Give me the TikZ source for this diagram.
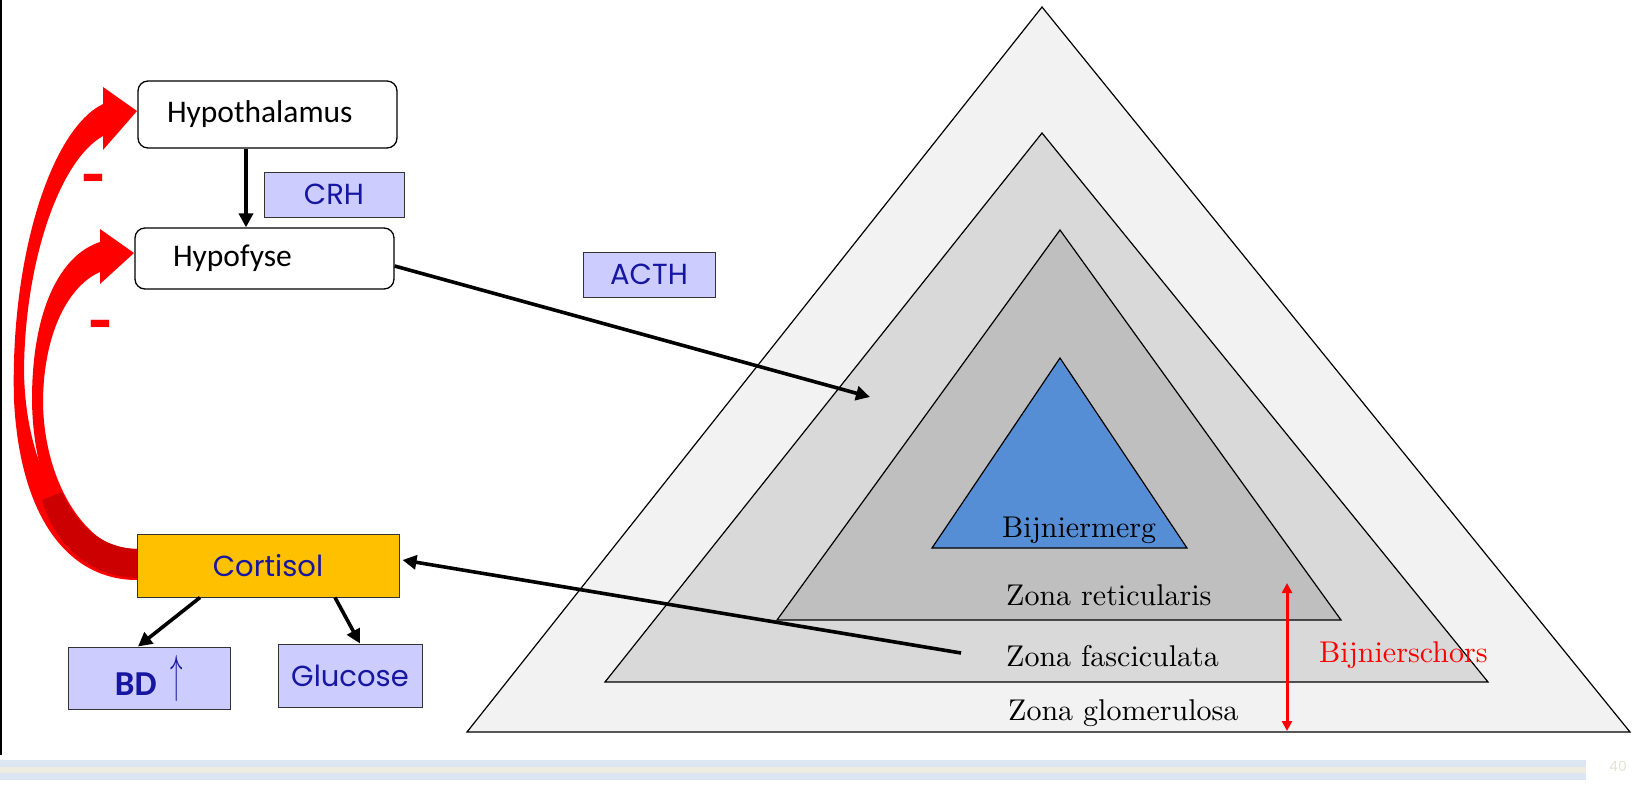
\documentclass[tikz,border=0pt]{standalone}
\usepackage{fontspec}
\newfontfamily\calibri{Carlito}
\newfontfamily\gothic{Poppins}
\newfontfamily\bookserif{lmroman10-regular}[Extension=.otf]
\usetikzlibrary{arrows.meta}

\definecolor{zoneA}{HTML}{F2F2F2}
\definecolor{zoneB}{HTML}{D9D9D9}
\definecolor{zoneC}{HTML}{BFBFBF}
\definecolor{medulla}{HTML}{558ED5}
\definecolor{lilac}{HTML}{CCCCFF}
\definecolor{amber}{HTML}{FFC000}
\definecolor{navy}{RGB}{22,22,160}
\definecolor{fbred}{HTML}{FF0000}
\definecolor{fbdark}{HTML}{CC0000}
\definecolor{stripblue}{HTML}{DCE6F2}
\definecolor{stripbeige}{HTML}{EEECE1}
\definecolor{pagegrey}{RGB}{228,226,214}

\tikzset{
  organ/.style={draw=black, line width=1.3pt, rounded corners=10pt, fill=white,
    align=left, font=\calibri\fontsize{31.5}{36}\selectfont, inner ysep=0pt},
  hormone/.style={draw=black!80, line width=1pt, fill=lilac, inner sep=0pt,
    text=navy, font=\gothic\fontsize{29}{34}\selectfont},
  zonetext/.style={anchor=base west, inner sep=0pt, font=\bookserif\fontsize{30}{36}\selectfont},
  flow/.style={line width=3.6pt, -{Triangle[length=14pt,width=14pt]}},
  cortexspan/.style={draw=fbred, line width=3pt,
    {Triangle[length=10pt,width=10pt]}-{Triangle[length=10pt,width=10pt]}},
  minus/.style={text=fbred, inner sep=0pt, font=\calibri\bfseries\fontsize{52}{52}\selectfont}
}

\begin{document}
\begin{tikzpicture}[x=1pt,y=-1pt]
\useasboundingbox (0,0) rectangle (1647,792);

% left edge of the slide frame
\draw[line width=1.5pt] (0.75,0) -- (0.75,755);

% footer band and slide number
\fill[stripblue] (0,760) rectangle (1586,767);
\fill[stripbeige] (0,767) rectangle (1586,773);
\fill[stripblue] (0,773) rectangle (1586,780);
\node[text=pagegrey, font=\gothic\fontsize{14}{14}\selectfont] (pagenr) at (1618,766) {40};

% adrenal gland: nested zones
\filldraw[fill=zoneA, draw=black, line width=1.2pt, line join=miter]
  (1042,7) -- (1630,732) -- (467,732) -- cycle;
\filldraw[fill=zoneB, draw=black, line width=1.2pt]
  (1042,133) -- (1488,682) -- (605,682) -- cycle;
\filldraw[fill=zoneC, draw=black, line width=1.2pt]
  (1060,230) -- (1341,620) -- (777,620) -- cycle;
\filldraw[fill=medulla, draw=black, line width=1.2pt]
  (1060,358) -- (1187,548) -- (932,548) -- cycle;

\node[zonetext] (merg) at (1002,537) {Bijniermerg};
\node[zonetext] (reti) at (1006,605) {Zona reticularis};
\node[zonetext] (fasc) at (1006,666) {Zona fasciculata};
\node[zonetext] (glom) at (1008,720) {Zona glomerulosa};
\node[zonetext, text=fbred] (schors) at (1319,662) {Bijnierschors};

\coordinate (cortextop) at (1287,583);
\coordinate (cortexbot) at (1287,731);
\draw[cortexspan] (cortextop) -- (cortexbot);

% negative feedback from cortisol
\fill[fbred]
  (137,580) .. controls (70,580) and (20,520) .. (14,400)
  .. controls (10,260) and (50,130) .. (103,104)
  -- (103,87) -- (137,111) -- (103,150) -- (103,136)
  .. controls (60,160) and (25,260) .. (24,370)
  .. controls (25,470) and (70,548) .. (137,549) -- cycle;
\fill[fbred]
  (137,575) .. controls (80,575) and (33,500) .. (32,400)
  .. controls (32,310) and (60,255) .. (100,242)
  -- (100,229) -- (134,253) -- (100,284) -- (100,272)
  .. controls (70,285) and (44,330) .. (43,400)
  .. controls (43,480) and (85,550) .. (137,552) -- cycle;
\fill[fbdark]
  (137,578) .. controls (92,577) and (56,548) .. (42,500)
  -- (62,492) .. controls (78,528) and (104,548) .. (137,549) -- cycle;

\node[minus] (minus1) at (93,188) {\scalebox{1}[1.6]{–}};
\node[minus] (minus2) at (100,334) {\scalebox{1}[1.6]{–}};

% hormone axis
\node[organ, text width=201pt, inner xsep=29pt, minimum height=67pt] (hyp) at (267.5,114.5) {Hypothalamus};
\node[organ, text width=183pt, inner xsep=38pt, minimum height=61pt] (hypo) at (264.5,258.5) {Hypofyse};
\node[hormone, minimum width=140pt, minimum height=45pt] (crh) at (334,194.5) {CRH};
\node[hormone, minimum width=132pt, minimum height=45pt] (acth) at (649,274.5) {ACTH};
\node[hormone, fill=amber, minimum width=262pt, minimum height=63pt] (cort) at (268,565.5) {Cortisol};
\node[hormone, minimum width=162pt, minimum height=62pt,
  font=\calibri\fontsize{35}{40}\selectfont] (bd) at (149,678)
  {\textbf{BD}\hspace{14pt}\raisebox{4pt}{\scalebox{1}[2.1]{$\uparrow$}}};
\node[hormone, minimum width=144pt, minimum height=63pt] (gluc) at (350,675.5) {Glucose};

\coordinate (acthtarget) at (870,397);
\coordinate (fascsource) at (961,653);

\draw[flow] ([xshift=-21.5pt]hyp.south) -- ([xshift=-18.5pt]hypo.north);
\draw[flow] ([yshift=-7.5pt]hypo.east) -- (acthtarget);
\draw[flow] (fascsource) -- ([xshift=3pt,yshift=5.5pt]cort.east);
\draw[flow] ([xshift=-68pt]cort.south) -- ([xshift=-11pt]bd.north);
\draw[flow] ([xshift=67pt]cort.south) -- ([xshift=10pt]gluc.north);
\end{tikzpicture}
\end{document}
